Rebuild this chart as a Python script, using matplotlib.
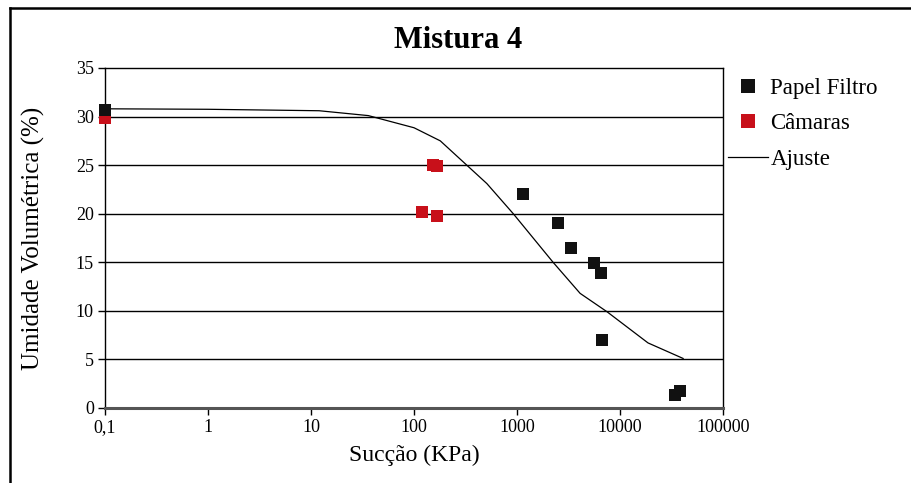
import matplotlib
matplotlib.use("Agg")
import matplotlib.pyplot as plt
from matplotlib.lines import Line2D

plt.rcParams['font.family'] = ['Liberation Serif', 'DejaVu Serif']

# Papel filtro measurements: suction (kPa) vs volumetric water content (%)
papel_succao = [0.1, 1150, 2500, 3370, 5560, 6580, 6680, 34200, 38300]
papel_umidade = [30.7, 22.0, 19.0, 16.5, 14.9, 13.9, 7.0, 1.3, 1.7]

# Pressure chamber measurements
camaras_succao = [0.1, 152, 168, 119, 168]
camaras_umidade = [29.9, 25.0, 24.9, 20.2, 19.8]

# Fitted retention curve
ajuste_succao = [0.1, 1, 12, 36, 100, 180, 510, 920, 2240, 4100, 7500, 18700, 41000]
ajuste_umidade = [30.8, 30.75, 30.6, 30.1, 28.85, 27.5, 23.1, 20.0, 15.0, 11.8, 9.9, 6.7, 5.1]

x_ticks = [0.1, 1, 10, 100, 1000, 10000, 100000]
x_labels = ['0,1', '1', '10', '100', '1000', '10000', '100000']
y_ticks = [0, 5, 10, 15, 20, 25, 30, 35]

W, H = 911, 483
fig = plt.figure(figsize=(W / 100, H / 100), dpi=100)
ax = fig.add_axes([105 / W, 1 - 408 / H, (723 - 105) / W, (408 - 68) / H])

for y in y_ticks[1:-1]:
    ax.axhline(y, color='black', linewidth=1.0, zorder=1)

ax.plot(ajuste_succao, ajuste_umidade, color='black', linewidth=0.9,
        label='Ajuste', zorder=2)
ax.plot(camaras_succao, camaras_umidade, linestyle='none', marker='s',
        markersize=8.6, color='#C8101A', markeredgewidth=0,
        label='Câmaras', zorder=3, clip_on=False)
ax.plot(papel_succao, papel_umidade, linestyle='none', marker='s',
        markersize=8.6, color='#111111', markeredgewidth=0,
        label='Papel Filtro', zorder=4, clip_on=False)

ax.set_xscale('log')
ax.set_xlim(0.1, 100000)
ax.set_ylim(0, 35)
ax.set_xticks(x_ticks)
ax.set_xticklabels(x_labels)
ax.minorticks_off()
ax.set_yticks(y_ticks)
ax.tick_params(axis='both', direction='out', length=5, width=1,
               labelsize=13, colors='black', pad=3)

for side in ['left', 'right', 'top']:
    ax.spines[side].set_linewidth(1.0)
    ax.spines[side].set_color('black')
ax.spines['bottom'].set_linewidth(2.2)
ax.spines['bottom'].set_color('#555555')

ax.set_xlabel('Sucção (KPa)', fontsize=17, labelpad=6)
ax.set_ylabel('Umidade Volumétrica (%)', fontsize=18)
ax.yaxis.set_label_coords((45 - 105) / (723 - 105), 0.5)
fig.text(458 / W, 1 - 40 / H, 'Mistura 4', fontsize=22, fontweight='bold',
         ha='center', va='center')

handles, labels = ax.get_legend_handles_labels()
order = [2, 1, 0]
ax.legend([handles[i] for i in order], [labels[i] for i in order],
          loc='upper left', bbox_to_anchor=(728 / W, 1 - 78 / H),
          bbox_transform=fig.transFigure, frameon=False, borderpad=0,
          fontsize=16.5, markerscale=1.25, handlelength=1.75,
          handletextpad=0.1, labelspacing=0.62, borderaxespad=0)

# Outer frame
fig.add_artist(Line2D([10 / W, 10 / W], [0, 1 - 8 / H],
                      transform=fig.transFigure, color='black', linewidth=1.8))
fig.add_artist(Line2D([10 / W, 1], [1 - 8 / H, 1 - 8 / H],
                      transform=fig.transFigure, color='black', linewidth=1.8))

fig.savefig('out.png', dpi=100)
